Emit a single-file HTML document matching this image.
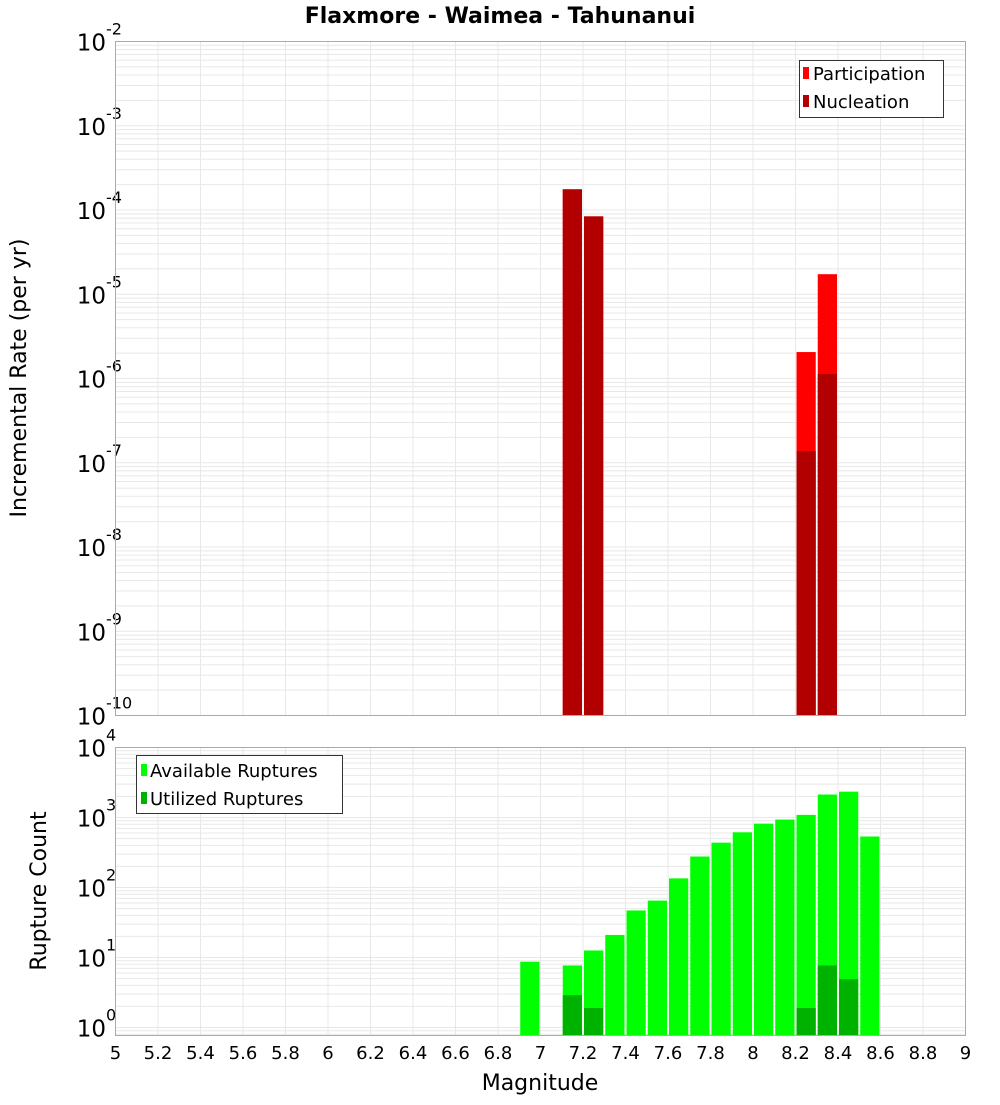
<!DOCTYPE html>
<html><head><meta charset="utf-8"><style>
html,body{margin:0;padding:0;background:#fff;}
svg text{font-family:"DejaVu Sans","Liberation Sans",sans-serif;}
</style></head><body>
<svg id="chart" width="1000" height="1100" xmlns="http://www.w3.org/2000/svg">
<rect width="1000" height="1100" fill="#fff"/>
<text x="500" y="23" text-anchor="middle" font-size="22" font-weight="bold">Flaxmore - Waimea - Tahunanui</text>
<g id="top"></g>
<g id="bot"></g>
<text transform="translate(26,378) rotate(-90)" text-anchor="middle" font-size="22">Incremental Rate (per yr)</text>
<text transform="translate(46,891) rotate(-90)" text-anchor="middle" font-size="22">Rupture Count</text>
<text x="540" y="1090" text-anchor="middle" font-size="22">Magnitude</text>
</svg>
<script>
// Top chart data
const topMags = [7.15, 7.25, 8.25, 8.35];
const participation = [1.76e-4, 8.4e-5, 2.06e-6, 1.73e-5];
const nucleation = [1.76e-4, 8.4e-5, 1.38e-7, 1.13e-6];
// Bottom chart data
const botMags = [6.95, 7.15, 7.25, 7.35, 7.45, 7.55, 7.65, 7.75, 7.85, 7.95, 8.05, 8.15, 8.25, 8.35, 8.45, 8.55];
const available = [8.7, 7.7, 12.6, 21, 47, 65, 135, 277, 437, 615, 817, 935, 1090, 2130, 2340, 535];
const utilized = [0, 2.9, 1.9, 0, 0, 0, 0, 0, 0, 0, 0, 0, 1.9, 7.7, 4.9, 0];
const xTicks = ["5","5.2","5.4","5.6","5.8","6","6.2","6.4","6.6","6.8","7","7.2","7.4","7.6","7.8","8","8.2","8.4","8.6","8.8","9"];
const topExps = [-2,-3,-4,-5,-6,-7,-8,-9,-10];
const botExps = [4,3,2,1,0];

const NS="http://www.w3.org/2000/svg";
const L=115.5,R=965.5;
const xs=m=>L+(m-5)/4*(R-L);
function el(tag,attrs,parent){const e=document.createElementNS(NS,tag);for(const k in attrs)e.setAttribute(k,attrs[k]);parent.appendChild(e);return e;}

function panel(g,top,bottom,ymaxLog,pxPerDec,exps,labelPrefix){
  const ys=v=>top+(ymaxLog-Math.log10(v))*pxPerDec;
  const r=el('rect',{x:L,y:top,width:R-L,height:bottom-top,fill:'#fff'},g);
  
  
  const grid=el('g',{},g);
  
  
  for(let i=0;i<=20;i++){const x=xs(5+i*0.2);el('line',{x1:x,x2:x,y1:top,y2:bottom,stroke:'#e8e8e8','stroke-width':1},grid);}
  for(let e=Math.floor(ymaxLog)-12;e<=ymaxLog;e++){for(let k=1;k<10;k++){const y=ys(k*Math.pow(10,e));if(y>=top&&y<=bottom)el('line',{x1:L,x2:R,y1:y,y2:y,stroke:'#e8e8e8','stroke-width':1},grid);}}
  exps.forEach(e=>{const y=ys(Math.pow(10,e));
    const t=el('text',{x:106,y:y+9,'text-anchor':'end','font-size':23},g);
    
    
    t.textContent='10';
    const s=el('text',{x:106,y:y-7,'text-anchor':'start','font-size':16},g);
    
    
    s.textContent=String(e);
  });
  return ys;
}

const gt=document.getElementById('top');
const ysT=panel(gt,41.5,715.5,-2,84.25,topExps,'top');
topMags.forEach((m,i)=>{
  const x0=xs(m-0.05)+1,w=xs(m+0.05)-xs(m-0.05)-2;
  const b=el('rect',{x:x0,y:ysT(participation[i]),width:w,height:715.5-ysT(participation[i]),fill:'#ff0000'},gt);
  
  
  const n=el('rect',{x:x0,y:ysT(nucleation[i]),width:w,height:715.5-ysT(nucleation[i]),fill:'#b20000'},gt);
  
  
});
el('rect',{x:L,y:41.5,width:R-L,height:674,fill:'none',stroke:'#aaa'},gt);
const lg=el('g',{},gt);


el('rect',{x:799.5,y:60.5,width:144,height:57,fill:'#fff',stroke:'#333'},lg);
el('rect',{x:803,y:67,width:6,height:12,fill:'#ff0000'},lg);
el('rect',{x:803,y:95,width:6,height:12,fill:'#b20000'},lg);
const t1=el('text',{x:813,y:80,'font-size':18},lg);t1.textContent='Participation';


const t2=el('text',{x:813,y:108,'font-size':18},lg);t2.textContent='Nucleation';



const gb=document.getElementById('bot');
const ysB=panel(gb,747.5,1035.5,4,70,botExps,'bottom');
botMags.forEach((m,i)=>{
  const x0=xs(m-0.05)+1,w=xs(m+0.05)-xs(m-0.05)-2;
  if(available[i]>0){const b=el('rect',{x:x0,y:ysB(available[i]),width:w,height:1035.5-ysB(available[i]),fill:'#00ff00'},gb);
    
    }
  if(utilized[i]>0){const u=el('rect',{x:x0,y:ysB(utilized[i]),width:w,height:1035.5-ysB(utilized[i]),fill:'#00b200'},gb);
    
    }
});
el('rect',{x:L,y:747.5,width:R-L,height:288,fill:'none',stroke:'#aaa'},gb);
const lb=el('g',{},gb);


el('rect',{x:136.5,y:755.5,width:206,height:58,fill:'#fff',stroke:'#333'},lb);
el('rect',{x:141,y:764,width:6,height:12,fill:'#00ff00'},lb);
el('rect',{x:141,y:792,width:6,height:12,fill:'#00b200'},lb);
const t3=el('text',{x:150,y:777,'font-size':18},lb);t3.textContent='Available Ruptures';


const t4=el('text',{x:150,y:805,'font-size':18},lb);t4.textContent='Utilized Ruptures';



xTicks.forEach(s=>{
  const t=el('text',{x:xs(parseFloat(s)),y:1059,'text-anchor':'middle','font-size':18},gb);
  
  
  t.textContent=s;
});
</script>
</body></html>
